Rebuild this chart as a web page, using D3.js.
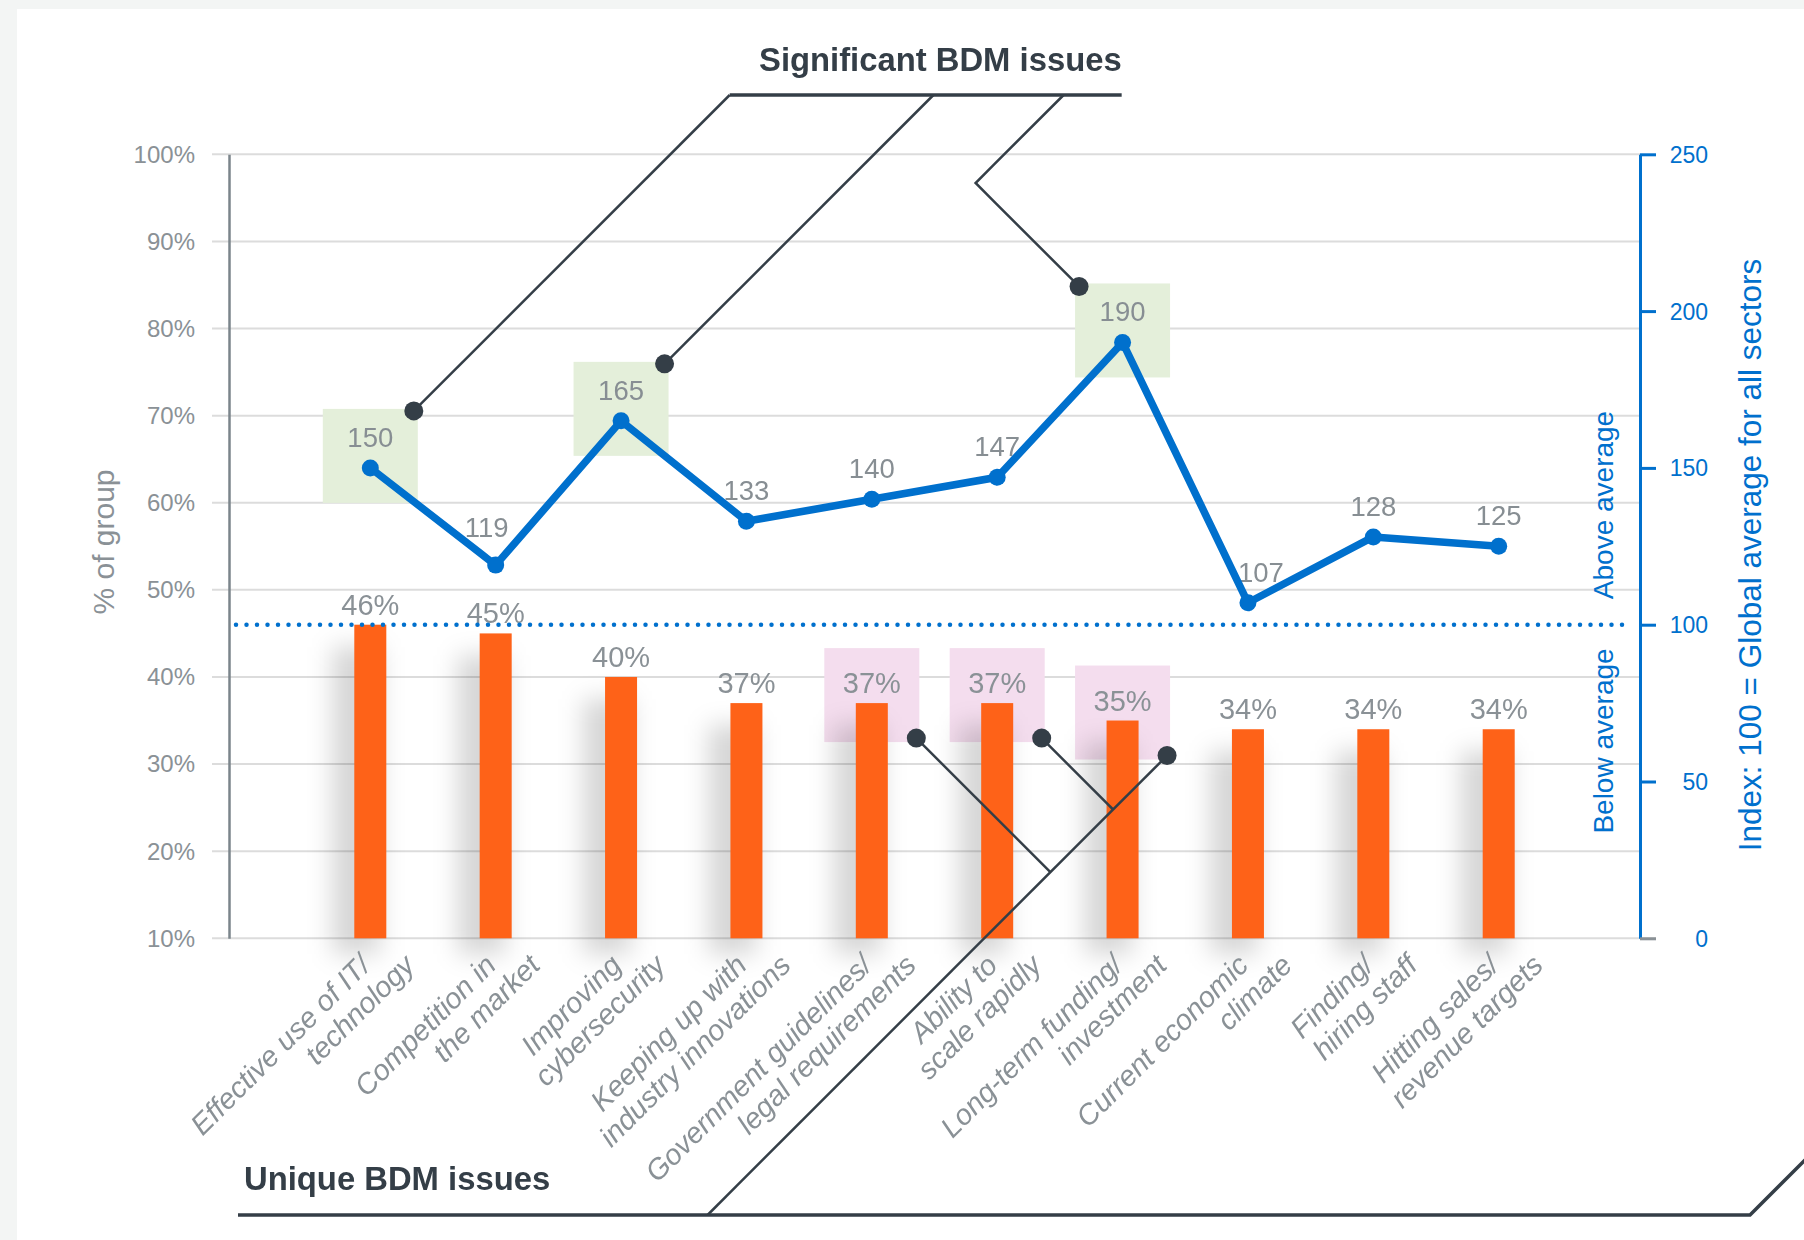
<!DOCTYPE html>
<html>
<head>
<meta charset="utf-8">
<script src="https://cdn.jsdelivr.net/npm/d3@7"></script>
<style>
  html, body { margin: 0; padding: 0; background: #f3f5f4; }
  svg { display: block; font-family: "Liberation Sans", Arial, Helvetica, sans-serif; }
</style>
</head>
<body>
<svg id="chart" width="1804" height="1240"></svg>
<script>
// Business issues, each label split over two lines
const issueLine1 = ["Effective use of IT/", "Competition in", "Improving", "Keeping up with",
  "Government guidelines/", "Ability to", "Long-term funding/", "Current economic", "Finding/", "Hitting sales/"];
const issueLine2 = ["technology", "the market", "cybersecurity", "industry innovations",
  "legal requirements", "scale rapidly", "investment", "climate", "hiring staff", "revenue targets"];

// % of group citing each issue (bars)
const shareOfGroup = [46, 45, 40, 37, 37, 37, 35, 34, 34, 34];
// Index vs. global average for all sectors (line)
const indexValues = [150, 119, 165, 133, 140, 147, 190, 107, 128, 125];

const percentTicks = [10, 20, 30, 40, 50, 60, 70, 80, 90, 100];
const indexTicks = [0, 50, 100, 150, 200, 250];
const averageIndex = 100;

// Highlighted groups
const significantIssues = [0, 2, 6];
const uniqueIssues = [4, 5, 6];

const BLUE = "#0070cd", ORANGE = "#fe6218", GREY_TXT = "#8a9196", DARK = "#343e47";

const svg = d3.select("#chart");
const W = 1804, H = 1240;

// white panel
svg.append("rect").attr("x", 17).attr("y", 9).attr("width", W - 17).attr("height", H - 9).attr("fill", "#ffffff");

const defs = svg.append("defs");
defs.append("filter").attr("id", "barShadow").attr("x", "-100%").attr("y", "-20%").attr("width", "300%").attr("height", "140%")
  .append("feGaussianBlur").attr("stdDeviation", 12);

const plotLeft = 229, plotRight = 1640;
const x = d3.scalePoint().domain(d3.range(issueLine1.length)).range([plotLeft, plotRight]).padding(1.127);
const yPct = d3.scaleLinear().domain([10, 100]).range([938.3, 154.3]);
const yIdx = d3.scaleLinear().domain([0, 250]).range([938.3, 154.3]);

// gridlines
svg.append("g").selectAll("line").data(percentTicks).join("line")
  .attr("x1", 212).attr("x2", d => d === 10 ? plotRight + 16 : plotRight)
  .attr("y1", d => yPct(d)).attr("y2", d => yPct(d))
  .attr("stroke", "#dcdcdc").attr("stroke-width", 2);

// highlight boxes
const boxW = 95, boxH = 94;
const greenBox = i => ({ left: x(i) - boxW / 2, right: x(i) + boxW / 2, top: yIdx(indexValues[i]) - 59 });
const pinkBox = i => ({ left: x(i) - boxW / 2, right: x(i) + boxW / 2, top: yPct(shareOfGroup[i]) - 55 });

svg.append("g").selectAll("rect").data(significantIssues).join("rect")
  .attr("x", i => greenBox(i).left).attr("y", i => greenBox(i).top)
  .attr("width", boxW).attr("height", boxH).attr("fill", "#e4efda");
svg.append("g").selectAll("rect").data(uniqueIssues).join("rect")
  .attr("x", i => pinkBox(i).left).attr("y", i => pinkBox(i).top)
  .attr("width", boxW).attr("height", boxH).attr("fill", "#f4ddee");

// bar shadows
const barW = 32;
svg.append("g").attr("filter", "url(#barShadow)").selectAll("rect").data(shareOfGroup).join("rect")
  .attr("x", (d, i) => x(i) - 38).attr("width", 48)
  .attr("y", d => yPct(d) + 22).attr("height", d => yPct(10) - yPct(d) - 6)
  .attr("fill", "#000").attr("opacity", 0.16);

// bars
svg.append("g").selectAll("rect").data(shareOfGroup).join("rect")
  .attr("x", (d, i) => x(i) - barW / 2).attr("width", barW)
  .attr("y", d => yPct(d)).attr("height", d => yPct(10) - yPct(d))
  .attr("fill", ORANGE);

// left axis
const leftAxis = svg.append("g").attr("transform", `translate(${plotLeft},0)`)
  .call(d3.axisLeft(yPct).tickValues(percentTicks).tickFormat(d => d + "%").tickSize(0).tickSizeOuter(0).tickPadding(34));
leftAxis.select(".domain").attr("stroke", "#7b858b").attr("stroke-width", 2.5);
leftAxis.selectAll("text").attr("fill", GREY_TXT).attr("font-size", 24).attr("font-family", null).attr("dy", "0.33em");

// right axis
const rightAxis = svg.append("g").attr("transform", `translate(${plotRight},0)`)
  .call(d3.axisRight(yIdx).tickValues(indexTicks).tickSize(16).tickSizeOuter(0).tickPadding(0));
rightAxis.select(".domain").attr("stroke", BLUE).attr("stroke-width", 3);
rightAxis.selectAll(".tick line").attr("stroke", d => d === 0 ? "#8a9196" : BLUE).attr("stroke-width", 3);
rightAxis.selectAll("text").attr("fill", BLUE).attr("font-size", 23).attr("font-family", null)
  .attr("text-anchor", "end").attr("x", 68).attr("dy", "0.35em");

// axis titles
svg.append("text").attr("transform", "translate(114,542) rotate(-90)").attr("text-anchor", "middle")
  .attr("font-size", 30).attr("fill", GREY_TXT).text("% of group");
svg.append("text").attr("transform", "translate(1613,505) rotate(-90)").attr("text-anchor", "middle")
  .attr("font-size", 28).attr("fill", BLUE).text("Above average");
svg.append("text").attr("transform", "translate(1613,741) rotate(-90)").attr("text-anchor", "middle")
  .attr("font-size", 28).attr("fill", BLUE).text("Below average");
svg.append("text").attr("transform", "translate(1761,555) rotate(-90)").attr("text-anchor", "middle")
  .attr("font-size", 31.5).attr("fill", BLUE).text("Index: 100 = Global average for all sectors");

// bar value labels
svg.append("g").selectAll("text").data(shareOfGroup).join("text")
  .attr("x", (d, i) => x(i)).attr("y", d => yPct(d) - 10)
  .attr("text-anchor", "middle").attr("font-size", 29).attr("fill", GREY_TXT)
  .text(d => d + "%");

// index value labels (two nudged clear of the line)
const indexLabelNudge = { 1: [-9, -7], 7: [13, 0] };
svg.append("g").selectAll("text").data(indexValues).join("text")
  .attr("x", (d, i) => x(i) + (indexLabelNudge[i] ? indexLabelNudge[i][0] : 0))
  .attr("y", (d, i) => yIdx(d) - 21 + (indexLabelNudge[i] ? indexLabelNudge[i][1] : 0))
  .attr("text-anchor", "middle").attr("font-size", 27.5).attr("fill", "#878e93")
  .text(d => d);

// average reference line (index = 100)
svg.append("line").attr("x1", 236).attr("x2", 1627)
  .attr("y1", yIdx(averageIndex)).attr("y2", yIdx(averageIndex))
  .attr("stroke", BLUE).attr("stroke-width", 4.5).attr("stroke-linecap", "round").attr("stroke-dasharray", "0 10.5");

// index line
svg.append("path").datum(indexValues)
  .attr("d", d3.line().x((d, i) => x(i)).y(d => yIdx(d)))
  .attr("fill", "none").attr("stroke", BLUE).attr("stroke-width", 7.5).attr("stroke-linejoin", "round");
svg.append("g").selectAll("circle").data(indexValues).join("circle")
  .attr("cx", (d, i) => x(i)).attr("cy", d => yIdx(d)).attr("r", 8.5).attr("fill", BLUE);

// category labels
const catG = svg.append("g").attr("font-size", 29).attr("font-style", "italic").attr("fill", GREY_TXT).attr("text-anchor", "end");
catG.selectAll("text.l1").data(issueLine1).join("text").attr("class", "l1")
  .attr("transform", (d, i) => `translate(${x(i) + 2},967) rotate(-45)`).text(d => d);
catG.selectAll("text.l2").data(issueLine2).join("text").attr("class", "l2")
  .attr("transform", (d, i) => `translate(${x(i) + 46},967) rotate(-45)`).text(d => d);

// ---- callouts ----
const call = svg.append("g");
const topRuleY = 95, bottomRuleY = 1215;

// "Significant BDM issues"
const title1 = call.append("text").attr("x", 759).attr("y", 71).attr("font-size", 32.8).attr("font-weight", "bold")
  .attr("fill", DARK).text("Significant BDM issues");
const title1Right = 759 + title1.node().getComputedTextLength();

const sigLeaders = significantIssues.map((i, k) => {
  const b = greenBox(i);
  if (k < 2) {
    const p = [b.right - 4, b.top + 2];
    return [p, [p[0] + (p[1] - topRuleY), topRuleY]];
  }
  const p = [b.left + 4, b.top + 3];
  const elbowY = 183;
  const elbow = [p[0] - (p[1] - elbowY), elbowY];
  return [p, elbow, [elbow[0] + (elbowY - topRuleY), topRuleY]];
});
sigLeaders.forEach(pts => {
  call.append("path").attr("d", d3.line()(pts)).attr("fill", "none").attr("stroke", DARK).attr("stroke-width", 2.5);
});
call.append("line").attr("x1", sigLeaders[0][1][0]).attr("x2", title1Right).attr("y1", topRuleY).attr("y2", topRuleY)
  .attr("stroke", DARK).attr("stroke-width", 3.5);
sigLeaders.forEach(pts => {
  call.append("circle").attr("cx", pts[0][0]).attr("cy", pts[0][1]).attr("r", 9.5).attr("fill", DARK);
});

// "Unique BDM issues"
call.append("text").attr("x", 244).attr("y", 1190).attr("font-size", 32.8).attr("font-weight", "bold")
  .attr("fill", DARK).text("Unique BDM issues");

const uniDots = uniqueIssues.map(i => { const b = pinkBox(i); return [b.right - 3, b.top + boxH - 4]; });
const last = uniDots[uniDots.length - 1];
const diagSum = last[0] + last[1];                      // x + y constant along the down-left leader
const diagFoot = [diagSum - bottomRuleY, bottomRuleY];
call.append("line").attr("x1", last[0]).attr("y1", last[1]).attr("x2", diagFoot[0]).attr("y2", diagFoot[1])
  .attr("stroke", DARK).attr("stroke-width", 2.5);
uniDots.slice(0, -1).forEach(p => {
  const diff = p[1] - p[0];                               // y - x constant along the down-right leader
  const xi = (diagSum - diff) / 2;
  call.append("line").attr("x1", p[0]).attr("y1", p[1]).attr("x2", xi).attr("y2", xi + diff)
    .attr("stroke", DARK).attr("stroke-width", 2.5);
});
const ruleEnd = 1750;
call.append("path").attr("d", d3.line()([[238, bottomRuleY], [ruleEnd, bottomRuleY], [ruleEnd + 120, bottomRuleY - 120]]))
  .attr("fill", "none").attr("stroke", DARK).attr("stroke-width", 3.5);
uniDots.forEach(p => call.append("circle").attr("cx", p[0]).attr("cy", p[1]).attr("r", 9.5).attr("fill", DARK));
</script>
</body>
</html>
